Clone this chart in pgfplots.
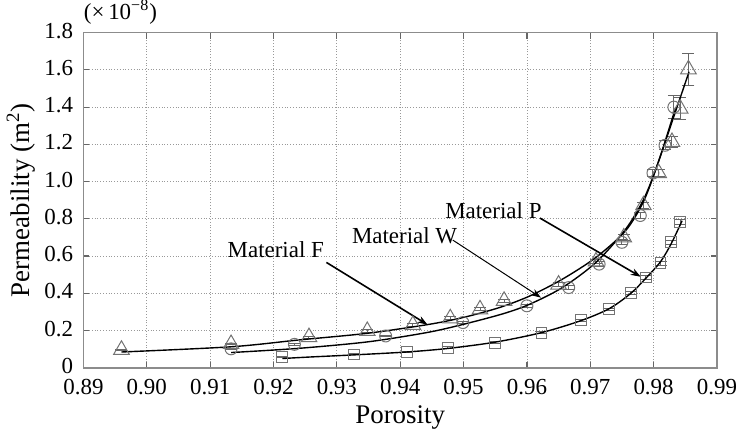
\documentclass[border=0pt]{standalone}
\usepackage{fontspec}
\setmainfont{Liberation Serif}
\usepackage{pgfplots}
\usepackage{pgfplotstable}
\pgfplotsset{compat=1.18}
\usetikzlibrary{arrows.meta}

% measured points (x = porosity, y = permeability x 1e-8, e = error)
\pgfplotstableread{
x      y     e
0.8960 0.097 0.004
0.9133 0.128 0.004
0.9256 0.165 0.005
0.9348 0.198 0.006
0.9420 0.230 0.006
0.9479 0.266 0.007
0.9526 0.314 0.008
0.9564 0.360 0.009
0.9650 0.447 0.010
0.9709 0.571 0.012
0.9753 0.700 0.014
0.9784 0.873 0.016
0.9808 1.046 0.018
0.9829 1.213 0.030
0.9842 1.392 0.060
0.9855 1.603 0.085
}\matF
\pgfplotstableread{
x      y     e
0.9133 0.102 0.004
0.9233 0.126 0.004
0.9377 0.171 0.005
0.9499 0.243 0.006
0.9600 0.333 0.008
0.9666 0.431 0.010
0.9714 0.557 0.012
0.9750 0.674 0.014
0.9779 0.818 0.016
0.9799 1.046 0.018
0.9818 1.195 0.025
0.9832 1.400 0.060
}\matW
\pgfplotstableread{
x      y     e
0.9214 0.058 0.003
0.9327 0.072 0.003
0.9411 0.086 0.003
0.9475 0.108 0.004
0.9550 0.135 0.004
0.9623 0.189 0.005
0.9685 0.255 0.006
0.9729 0.314 0.007
0.9764 0.400 0.008
0.9788 0.485 0.009
0.9811 0.562 0.010
0.9828 0.674 0.012
0.9842 0.782 0.014
}\matP
% fitted curves
\pgfplotstableread{
x      y
0.8960 0.085
0.9133 0.113
0.9241 0.150
0.9347 0.185
0.9443 0.232
0.9499 0.270
0.9556 0.323
0.9604 0.385
0.9656 0.476
0.9709 0.593
0.9756 0.737
0.9785 0.900
0.9808 1.110
0.9830 1.330
0.9856 1.590
}\fitF
\pgfplotstableread{
x      y
0.9133 0.082
0.9241 0.105
0.9350 0.140
0.9443 0.190
0.9499 0.233
0.9562 0.290
0.9604 0.341
0.9656 0.431
0.9709 0.566
0.9756 0.745
0.9785 0.910
0.9808 1.110
0.9835 1.400
}\fitW
\pgfplotstableread{
x      y
0.9214 0.050
0.9257 0.058
0.9330 0.070
0.9410 0.085
0.9475 0.104
0.9550 0.138
0.9623 0.189
0.9685 0.253
0.9730 0.318
0.9764 0.400
0.9788 0.482
0.9811 0.570
0.9828 0.668
0.9845 0.790
}\fitP

\begin{document}
\begin{tikzpicture}
\begin{axis}[
  scale only axis,
  width=317.5pt, height=168pt,
  xmin=0.89, xmax=0.99, ymin=0, ymax=1.8,
  xtick={0.89,0.90,0.91,0.92,0.93,0.94,0.95,0.96,0.97,0.98,0.99},
  xticklabels={0.89,0.90,0.91,0.92,0.93,0.94,0.95,0.96,0.97,0.98,0.99},
  ytick={0,0.2,0.4,0.6,0.8,1.0,1.2,1.4,1.6,1.8},
  yticklabels={0,0.2,0.4,0.6,0.8,1.0,1.2,1.4,1.6,1.8},
  grid=major,
  major grid style={densely dotted, black!40, line width=0.4pt},
  axis line style={black!45, line width=0.8pt},
  tick style={black!60, line width=0.6pt},
  major tick length=3pt,
  tick label style={font=\fontsize{11.5}{13}\selectfont, inner sep=1pt},
  xticklabel style={yshift=-4.5pt},
  yticklabel style={xshift=-4pt, yshift=1pt},
  label style={font=\fontsize{13.5}{16}\selectfont},
  xlabel style={yshift=-1pt},
  xlabel={Porosity},
  ylabel={Permeability (m\textsuperscript{2})},
  clip=false,
  error bars/error bar style={black!60, line width=0.5pt},
  error bars/error mark options={rotate=90, mark size=3pt, black!60, line width=0.5pt},
]
\addplot[only marks, mark=triangle, mark size=4.5pt, mark options={black!55, line width=0.5pt},
  error bars/.cd, y dir=both, y explicit] table[x=x, y=y, y error=e] {\matF};
\addplot[only marks, mark=o, mark size=3pt, mark options={black!55, line width=0.5pt},
  error bars/.cd, y dir=both, y explicit] table[x=x, y=y, y error=e] {\matW};
\addplot[only marks, mark=square, mark size=2.7pt, mark options={black!55, line width=0.5pt},
  error bars/.cd, y dir=both, y explicit] table[x=x, y=y, y error=e] {\matP};

\addplot[black, line width=0.7pt, smooth] table[x=x, y=y] {\fitF};
\addplot[black, line width=0.7pt, smooth] table[x=x, y=y] {\fitW};
\addplot[black, line width=0.7pt, smooth] table[x=x, y=y] {\fitP};

\node[anchor=south west, inner sep=0pt, font=\fontsize{11.5}{13}\selectfont]
  at (rel axis cs:0,1) [yshift=4pt] {(×\,10\textsuperscript{−8})};

\node[font=\fontsize{11.5}{13}\selectfont] at (axis cs:0.92036,0.636) {Material F};
\node[font=\fontsize{11.5}{13}\selectfont] at (axis cs:0.94069,0.711) {Material W};
\node[font=\fontsize{11.5}{13}\selectfont] at (axis cs:0.95471,0.846) {Material P};

\draw[-{Stealth[length=5pt, width=3.5pt]}, line width=0.8pt]
  (axis cs:0.92835,0.566) -- (axis cs:0.94431,0.232);
\draw[-{Stealth[length=5pt, width=3.5pt]}, line width=0.5pt]
  (axis cs:0.94830,0.686) -- (axis cs:0.96222,0.377);
\draw[-{Stealth[length=5pt, width=3.5pt]}, line width=0.8pt]
  (axis cs:0.96207,0.804) -- (axis cs:0.97798,0.489);
\end{axis}
\end{tikzpicture}
\end{document}
